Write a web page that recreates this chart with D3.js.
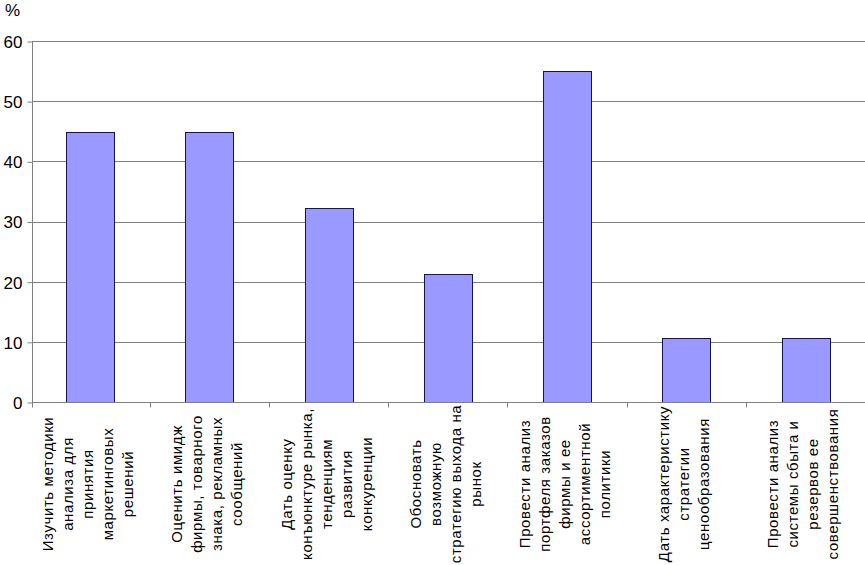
<!DOCTYPE html>
<html><head><meta charset="utf-8">
<script src="https://cdn.jsdelivr.net/npm/d3@7"></script>
<style>body{margin:0;background:#fff}svg{display:block}text{font-family:Arial,"Liberation Sans",sans-serif;fill:#000}</style>
</head><body>
<script>
const categories = [
  ["Изучить методики", "анализа для", "принятия", "маркетинговых", "решений"],
  ["Оценить имидж", "фирмы, товарного", "знака, рекламных", "сообщений"],
  ["Дать оценку", "конъюнктуре рынка,", "тенденциям", "развития", "конкуренции"],
  ["Обосновать", "возможную", "стратегию выхода на", "рынок"],
  ["Провести анализ", "портфеля заказов", "фирмы и ее", "ассортиментной", "политики"],
  ["Дать характеристику", "стратегии", "ценообразования"],
  ["Провести анализ", "системы сбыта и", "резервов ее", "совершенствования"]
];
const values = [44.9, 44.9, 32.2, 21.3, 55.0, 10.7, 10.7];
const yTicks = [0, 10, 20, 30, 40, 50, 60];
const yUnit = "%";

(function () {
const W = 865, H = 565;
const axisX = 32, plotTop = 41, plotBottom = 402;
const svg = d3.select("body").append("svg").attr("width", W).attr("height", H);

const idx = categories.map((d, i) => i);
const x = d3.scaleBand().domain(idx).range([30.5, W]).paddingInner(0).paddingOuter(0);
const y = d3.scaleLinear().domain([0, 60]).range([plotBottom, plotTop]);

// gridlines
svg.append("g").selectAll("line").data(yTicks.filter(t => t > 0)).join("line")
  .attr("x1", axisX).attr("x2", W)
  .attr("y1", d => Math.round(y(d)) + 0.5).attr("y2", d => Math.round(y(d)) + 0.5)
  .attr("stroke", "#808080").attr("stroke-width", 1);

// bars
const bw = x.bandwidth() / 2.5;
svg.append("g").selectAll("rect").data(values).join("rect")
  .attr("x", (d, i) => Math.round(x(i) + (x.bandwidth() - bw) / 2) + 0.5)
  .attr("y", d => Math.round(y(d)) + 0.5)
  .attr("width", Math.round(bw))
  .attr("height", d => Math.round(y(0)) - Math.round(y(d)))
  .attr("fill", "#9999FF").attr("stroke", "#141450").attr("stroke-width", 1);

// y axis
const ya = svg.append("g").attr("transform", `translate(${axisX + 0.5},0.5)`)
  .call(d3.axisLeft(y).tickValues(yTicks).tickSize(5).tickPadding(5).tickFormat(d3.format("d")));
ya.select(".domain").attr("stroke", "#808080").attr("d", `M0,${y(60)}V${y(0)}`);
ya.selectAll(".tick line").attr("stroke", "#808080");
ya.selectAll(".tick text").attr("font-size", 17).attr("font-family", "Arial, Liberation Sans, sans-serif").attr("fill", "#000").attr("dy", "0.35em");

// x axis
const xa = svg.append("g").attr("transform", `translate(0,${y(0) + 0.5})`);
xa.append("line").attr("x1", axisX).attr("x2", W).attr("stroke", "#808080");
xa.selectAll("line.t").data(d3.range(categories.length)).join("line").attr("class", "t")
  .attr("x1", i => Math.round(i === 0 ? axisX : x(i)) + 0.5).attr("x2", i => Math.round(i === 0 ? axisX : x(i)) + 0.5)
  .attr("y1", 0).attr("y2", 5).attr("stroke", "#808080");

// category labels (rotated, lines centered)
const lh = 20, cy = 484;
categories.forEach((lines, i) => {
  const cx = x(i) + x.bandwidth() / 2 + 3;
  const n = lines.length;
  lines.forEach((ln, j) => {
    const lx = cx + (j - (n - 1) / 2) * lh;
    svg.append("text")
      .attr("transform", `translate(${lx},${cy}) rotate(-90)`)
      .attr("text-anchor", "middle")
      .attr("font-size", 15)
      .attr("letter-spacing", "0.6px")
      .text(ln);
  });
});

// unit label
svg.append("text").attr("x", 5).attr("y", 16).attr("font-size", 17).text(yUnit);
})();
</script>
</body></html>
